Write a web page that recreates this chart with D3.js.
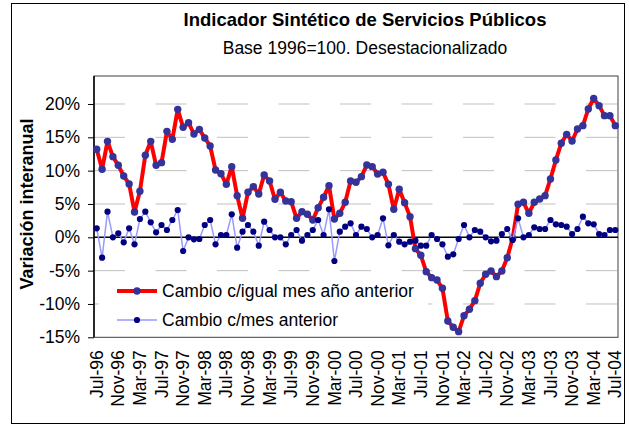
<!DOCTYPE html>
<html>
<head>
<meta charset="utf-8">
<script src="https://cdn.jsdelivr.net/npm/d3@7"></script>
<style>
  body { margin: 0; background: #fff; }
  text { font-family: "Liberation Sans", Arial, sans-serif; fill: #000; }
</style>
</head>
<body>
<div id="chart"></div>
<script>
// monthly categories Jul-96 .. Jul-04
var startMonth = new Date(1996, 6, 1);
var categories = d3.timeMonth.range(startMonth, new Date(2004, 7, 1));

// tick labels shown every 4 months
var tickLabels = ["Jul-96", "Nov-96", "Mar-97", "Jul-97", "Nov-97", "Mar-98", "Jul-98", "Nov-98",
  "Mar-99", "Jul-99", "Nov-99", "Mar-00", "Jul-00", "Nov-00", "Mar-01", "Jul-01", "Nov-01",
  "Mar-02", "Jul-02", "Nov-02", "Mar-03", "Jul-03", "Nov-03", "Mar-04", "Jul-04"];

var yTicks = [-15, -10, -5, 0, 5, 10, 15, 20];

// Cambio c/igual mes año anterior (%)
var cambioAnual = [13.2, 10.2, 14.4, 12.1, 10.8, 9.2, 8.0, 3.8, 6.9, 12.3, 14.4, 10.8,
  11.2, 15.9, 14.7, 19.2, 16.5, 17.2, 15.5, 16.2, 14.9, 13.7, 10.1, 9.55,
  7.95, 10.6, 6.25, 2.85, 6.75, 7.6, 6.5, 9.35, 8.45, 5.7, 6.75, 5.45,
  5.35, 2.85, 3.85, 3.45, 2.6, 4.45, 6.0, 7.75, 2.75, 3.6, 5.25, 8.45,
  8.25, 9.1, 10.85, 10.6, 9.5, 9.75, 7.95, 4.2, 7.2, 5.2, 3.1, -1.7,
  -2.7, -5.15, -6.05, -6.4, -7.65, -12.55, -13.5, -14.15, -11.75, -10.8, -9.5, -6.9,
  -5.55, -5.05, -5.9, -5.05, -3.05, -0.15, 4.95, 5.25, 3.6, 5.25, 5.75, 6.25,
  8.75, 11.6, 14.1, 15.45, 14.45, 16.25, 16.75, 19.25, 20.85, 19.75, 18.25, 18.25,
  16.75];

// Cambio c/mes anterior (%)
var cambioMensual = [1.35, -3.05, 3.85, 0.0, 0.6, -0.75, 1.35, -1.05, 2.75, 3.85, 2.25, 0.75,
  1.85, 1.1, 2.6, 4.1, -2.05, 0.0, -0.3, -0.25, 1.85, 2.6, -1.05, 0.35,
  0.35, 3.45, -1.55, 0.85, 1.85, 0.85, -1.25, 2.35, 1.1, 0.0, 0.0, -1.05,
  0.35, 1.1, -0.5, 0.35, 1.1, 2.6, 0.35, 4.2, -3.55, 0.85, 1.6, 2.1,
  0.35, 1.6, 1.25, 0.0, 0.35, 2.85, -1.2, 0.35, -0.65, -1.05, -0.65, -0.5,
  -1.25, -1.25, 0.35, -0.25, -1.05, -2.9, -2.55, -0.25, 1.85, 0.0, 1.1, 0.85,
  0.0, -0.6, -0.5, 0.5, 1.25, -0.4, 2.85, 0.0, 0.35, 1.5, 1.25, 1.25,
  2.6, 1.95, 1.85, 1.6, 0.5, 1.25, 3.1, 2.1, 1.95, 0.5, 0.35, 1.1,
  1.1];

var svgWidth = 629;
var svgHeight = 426;

// plot area in page pixels
var plot = { left: 94, top: 76, right: 618, bottom: 337.3 };

var svg = d3.select("#chart")
  .append("svg")
  .attr("width", svgWidth)
  .attr("height", svgHeight);

// outer frame
svg.append("rect")
  .attr("x", 11.5).attr("y", 3.5)
  .attr("width", 613).attr("height", 420)
  .attr("fill", "#fff")
  .attr("stroke", "#000")
  .attr("stroke-width", 1);

// titles
svg.append("text")
  .attr("x", 365).attr("y", 26)
  .attr("text-anchor", "middle")
  .style("font-size", "18.5px")
  .style("font-weight", "bold")
  .text("Indicador Sintético de Servicios Públicos");

svg.append("text")
  .attr("x", 365).attr("y", 54)
  .attr("text-anchor", "middle")
  .style("font-size", "17.5px")
  .text("Base 1996=100. Desestacionalizado");

// scales
var xScale = d3.scaleBand()
  .domain(categories)
  .range([plot.left, plot.right])
  .padding(0);

var yScale = d3.scaleLinear()
  .domain([-15, 24.2])
  .range([plot.bottom, plot.top]);

var xc = function(i) { return xScale(categories[i]) + xScale.bandwidth() / 2; };

// gridlines
svg.append("g")
  .selectAll("line")
  .data(yTicks.filter(d => d !== 0 && d !== -15))
  .enter()
  .append("line")
  .attr("x1", plot.left).attr("x2", plot.right)
  .attr("y1", d => yScale(d)).attr("y2", d => yScale(d))
  .attr("stroke", "#c0c0c0")
  .attr("stroke-width", 1)
  .attr("stroke-dasharray", "31,30.5");

// plot area border
svg.append("rect")
  .attr("x", plot.left).attr("y", plot.top)
  .attr("width", plot.right - plot.left)
  .attr("height", plot.bottom - plot.top)
  .attr("fill", "none")
  .attr("stroke", "#404040")
  .attr("stroke-width", 1);

// y axis
var leftAxis = d3.axisLeft(yScale)
  .tickValues(yTicks)
  .tickFormat(d => d + "%")
  .tickSize(6)
  .tickPadding(8);

var yAxisG = svg.append("g")
  .attr("transform", `translate(${plot.left}, 0)`)
  .call(leftAxis);
yAxisG.select(".domain")
  .attr("d", `M0,${plot.top}V${plot.bottom}`)
  .attr("stroke", "#000").attr("stroke-width", 1.5);
yAxisG.selectAll(".tick line").attr("stroke", "#000");
yAxisG.selectAll(".tick text")
  .style("font-size", "17.5px")
  .style("font-family", "'Liberation Sans', Arial, sans-serif");

// zero line
svg.append("line")
  .attr("x1", plot.left).attr("x2", plot.right)
  .attr("y1", yScale(0)).attr("y2", yScale(0))
  .attr("stroke", "#000")
  .attr("stroke-width", 1.5);

// x axis labels
var bottomAxis = d3.axisBottom(xScale)
  .tickValues(categories.filter((d, i) => i % 4 === 0))
  .tickFormat((d, i) => tickLabels[i])
  .tickSize(0);

var xAxisG = svg.append("g")
  .attr("transform", `translate(0, ${plot.bottom})`)
  .call(bottomAxis);
xAxisG.select(".domain").remove();
xAxisG.selectAll(".tick text")
  .attr("transform", "rotate(-90)")
  .attr("text-anchor", "end")
  .attr("x", -13)
  .attr("y", 0)
  .attr("dy", "0.35em")
  .style("font-size", "17.5px")
  .style("font-family", "'Liberation Sans', Arial, sans-serif");

// y axis title
svg.append("text")
  .attr("transform", "translate(27, 204) rotate(-90)")
  .attr("text-anchor", "middle")
  .attr("dy", "0.35em")
  .style("font-size", "18px")
  .style("font-weight", "bold")
  .text("Variación interanual");

// legend (white box over the plot)
svg.append("rect")
  .attr("x", 99).attr("y", 277)
  .attr("width", 329).attr("height", 58)
  .attr("fill", "#fff");

// series
var line = d3.line()
  .x((d, i) => xc(i))
  .y(d => yScale(d));

svg.append("path")
  .datum(cambioAnual)
  .attr("d", line)
  .attr("fill", "none")
  .attr("stroke", "#ff0000")
  .attr("stroke-width", 4)
  .attr("stroke-linejoin", "round");

svg.append("g")
  .selectAll("circle")
  .data(cambioAnual)
  .enter()
  .append("circle")
  .attr("cx", (d, i) => xc(i))
  .attr("cy", d => yScale(d))
  .attr("r", 3.7)
  .attr("fill", "#333399");

svg.append("path")
  .datum(cambioMensual)
  .attr("d", line)
  .attr("fill", "none")
  .attr("stroke", "#9999ff")
  .attr("stroke-width", 1.5);

svg.append("g")
  .selectAll("circle")
  .data(cambioMensual)
  .enter()
  .append("circle")
  .attr("cx", (d, i) => xc(i))
  .attr("cy", d => yScale(d))
  .attr("r", 3.1)
  .attr("fill", "#000080");

// legend items
var legendItems = [
  { label: "Cambio c/igual mes año anterior", stroke: "#ff0000", width: 4, marker: "#333399", r: 3.7, y: 291 },
  { label: "Cambio c/mes anterior", stroke: "#9999ff", width: 1.5, marker: "#000080", r: 3.1, y: 320 }
];

var legend = svg.append("g");
legendItems.forEach(function(item) {
  legend.append("line")
    .attr("x1", 117).attr("x2", 157)
    .attr("y1", item.y).attr("y2", item.y)
    .attr("stroke", item.stroke)
    .attr("stroke-width", item.width);
  legend.append("circle")
    .attr("cx", 137).attr("cy", item.y)
    .attr("r", item.r)
    .attr("fill", item.marker);
  legend.append("text")
    .attr("x", 162).attr("y", item.y)
    .attr("dy", "0.35em")
    .style("font-size", "17.5px")
    .text(item.label);
});
</script>
</body>
</html>
